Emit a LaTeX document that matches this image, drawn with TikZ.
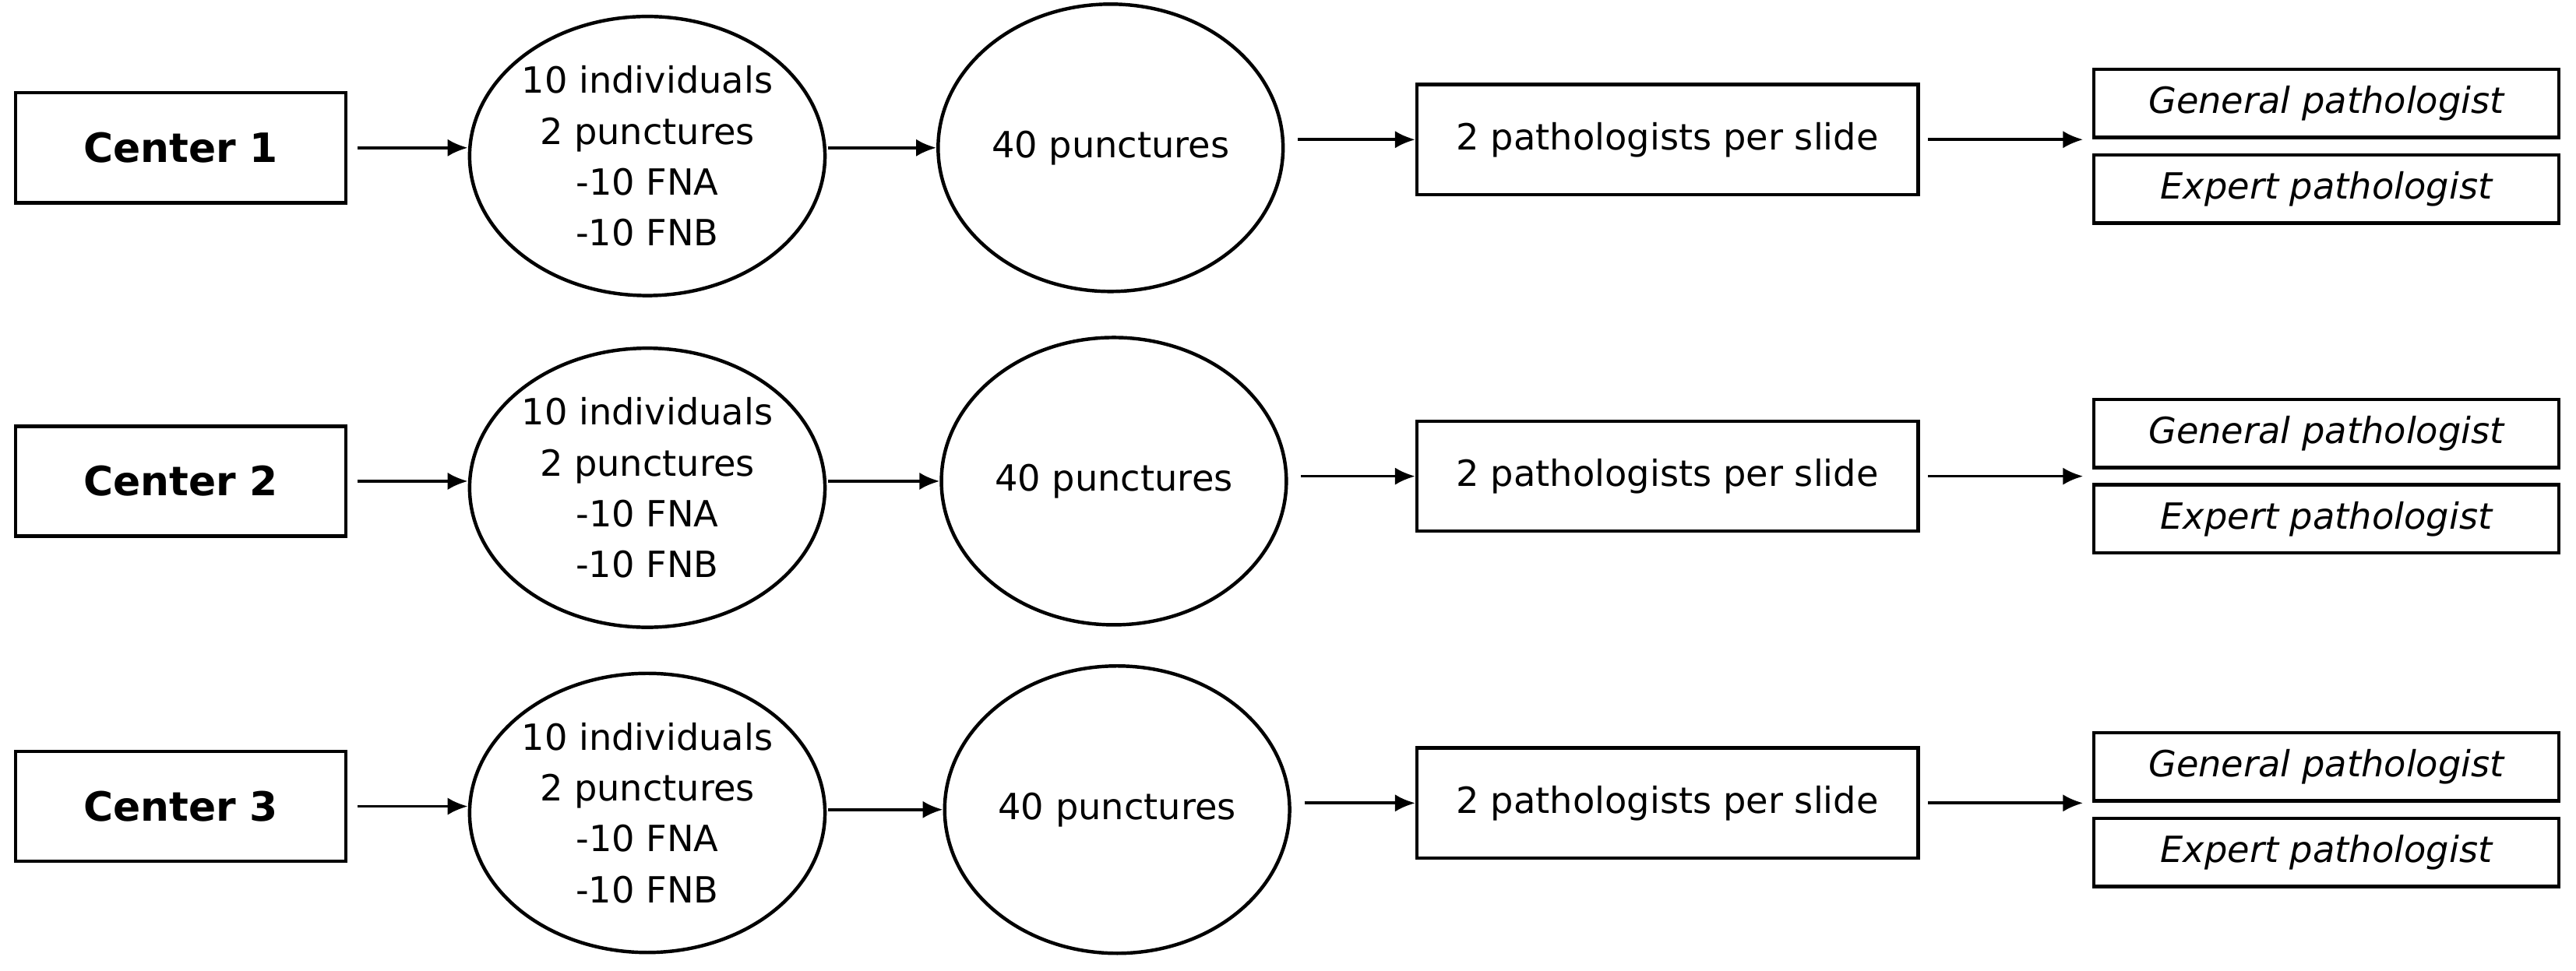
\documentclass[tikz,border=0pt]{standalone}
\usepackage{fontspec}
\setmainfont{DejaVu Sans}
\usetikzlibrary{shapes.geometric,arrows.meta}
\begin{document}
\begin{tikzpicture}[x=0.02cm,y=-0.02cm,
  every node/.style={font=\fontsize{12.5}{15.5}\selectfont},
  box/.style={draw,line width=1.2pt,minimum height=1.34cm,inner sep=0pt},
  ell/.style={draw,ellipse,line width=1.2pt,inner sep=0pt,align=center},
  small/.style={draw,line width=1.2pt,minimum width=5.66cm,minimum height=0.83cm,inner sep=0pt,font=\fontsize{12.5}{15}\selectfont\itshape},
  arr/.style={-{Latex[length=7pt,width=6pt]},line width=1pt}]
\useasboundingbox (0,0) rectangle (1568,591);
\foreach \i/\yc/\ya/\yb/\yp/\ys/\xe in {1/90/95/90/85/63/676, 2/293/297/293/290/264/678, 3/491/495/493/489/467/680}{
  \node[box,minimum width=4.02cm,font=\fontsize{14}{16}\selectfont\bfseries] (c\i) at (110,\yc) {Center \i};
  \node[ell,minimum width=4.24cm,minimum height=3.4cm,font=\fontsize{12.5}{17.6}\selectfont] (a\i) at (394,\ya) {10 individuals\\2 punctures\\-10 FNA\\-10 FNB};
  \node[ell,minimum width=4.2cm,minimum height=3.5cm] (b\i) at (\xe,\yb) {40 punctures};
  \node[box,minimum width=6.1cm] (p\i) at (1015,\yp) {2 pathologists per slide};
  \node[small] (g\i) at (1416,\ys) {General pathologist};
  \node[small] (e\i) at (1416,\ys+52) {Expert pathologist};
  \coordinate (t\i) at (1268,\yp);
  \coordinate (s\i) at (504,\yb);
  \draw[arr] ([xshift=0.12cm]c\i.east) -- (a\i.west |- c\i.east);
  \draw[arr] (s\i) -- (b\i.west);
  \draw[arr] ([xshift=0.16cm]b\i.east |- p\i.east) -- (p\i.west);
  \draw[arr] ([xshift=0.1cm]p\i.east) -- (t\i);
}
\end{tikzpicture}
\end{document}
